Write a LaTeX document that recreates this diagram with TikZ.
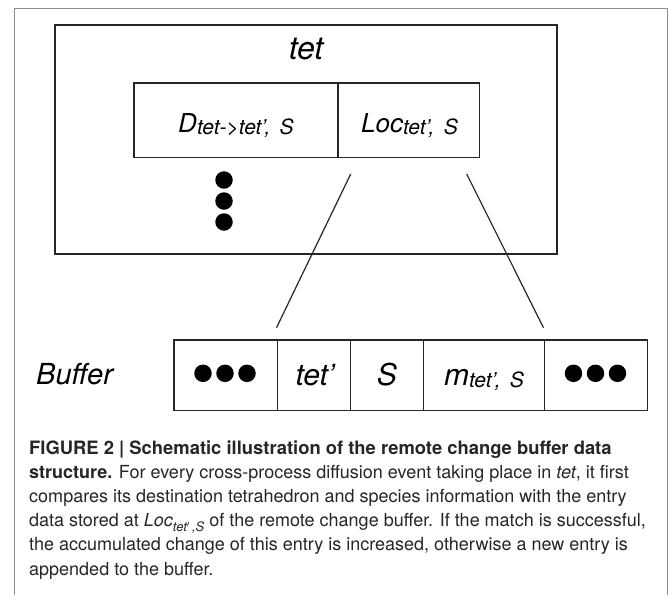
\documentclass[tikz,border=0pt]{standalone}
\usepackage{fontspec}
\setmainfont{TeX Gyre Heros}
\newcommand{\fsz}[1]{\fontsize{#1}{#1}\selectfont}
\newcommand{\lowsub}[1]{\raisebox{-2.5pt}{\fsz{21}#1}}
\begin{document}
\begin{tikzpicture}[x=1pt,y=-1pt,
  frame/.style={draw=black!45,line width=1pt},
  outerbox/.style={draw=black!85,line width=1.8pt,inner sep=0pt,anchor=north west},
  cell/.style={draw=black!85,line width=1.4pt,inner sep=0pt,anchor=north west},
  txt/.style={inner sep=0pt,anchor=base,font=\itshape},
  bigdot/.style={circle,fill=black,inner sep=0pt,minimum size=17.5pt},
  link/.style={line width=1.2pt,black!85},
  captext/.style={inner sep=0pt,anchor=base west,text=black!85,font=\fsz{18}}]
\useasboundingbox (0,0) rectangle (670,595);
\fill[white] (0,0) rectangle (670,595);

% figure frame, open at the bottom
\draw[frame] (14,595) -- (14,8) -- (667,8) -- (667,595);

% the tetrahedron record
\node[outerbox,minimum width=502pt,minimum height=229pt] (tetbox) at (54,24.3) {};
\node[txt,font=\itshape\fsz{32}] (tetname) at (306,59) {tet};
\node[cell,minimum width=204pt,minimum height=74.4pt] (dcell) at (133.3,82.3) {};
\node[cell,minimum width=141.7pt,minimum height=74.4pt] (loccell) at (337.3,82.3) {};
\node[txt,font=\itshape\fsz{26}] (dtext) at (236,132) {D\lowsub{tet->tet', \,S}};
\node[txt,font=\itshape\fsz{26}] (loctext) at (409.5,132) {Loc\lowsub{tet', \,S}};
\node[bigdot] (v1) at (224,180) {};
\node[bigdot] (v2) at (224,201) {};
\node[bigdot] (v3) at (224,222) {};

% the remote change buffer
\node[txt,anchor=base west,font=\itshape\fsz{29}] (buflabel) at (36,384) {Buffer};
\node[cell,minimum width=103.4pt,minimum height=70.7pt] (b1) at (173.3,339.3) {};
\node[cell,minimum width=73.3pt,minimum height=70.7pt] (b2) at (276.7,339.3) {};
\node[cell,minimum width=72.7pt,minimum height=70.7pt] (b3) at (350,339.3) {};
\node[cell,minimum width=121.3pt,minimum height=70.7pt] (b4) at (422.7,339.3) {};
\node[cell,minimum width=102.7pt,minimum height=70.7pt] (b5) at (544,339.3) {};
\node[bigdot] (h1) at (203,373.3) {};
\node[bigdot] (h2) at (225,373.3) {};
\node[bigdot] (h3) at (247,373.3) {};
\node[txt,font=\itshape\fsz{30}] (tettext) at (315,385) {tet'};
\node[txt,font=\itshape\fsz{30}] (stext) at (387,385) {S};
\node[txt,font=\itshape\fsz{30}] (mtext) at (484,385) {m\lowsub{tet', \,S}};
\node[bigdot] (h4) at (573.5,373.3) {};
\node[bigdot] (h5) at (595.5,373.3) {};
\node[bigdot] (h6) at (617.5,373.3) {};

% zoom lines from the location entry down to the buffer
\coordinate (ltop) at (350.7,174);
\coordinate (lbot) at (276.5,327.7);
\coordinate (rtop) at (466.7,174);
\coordinate (rbot) at (543.5,327.7);
\draw[link] (ltop) -- (lbot);
\draw[link] (rtop) -- (rbot);

% caption
\node[captext,font=\fsz{18.4}] (c1) at (29,454.3) {\bfseries FIGURE 2 | Schematic illustration of the remote change buffer data};
\node[captext] (c2) at (29,478.3) {\textbf{structure.} For every cross-process diffusion event taking place in \textit{tet}, it first};
\node[captext] (c3) at (29,502.7) {compares its destination tetrahedron and species information with the entry};
\node[captext] (c4) at (29,526.7) {data stored at \textit{Loc}\raisebox{-5pt}{\fsz{13}\itshape tet$'$\,,S} of the remote change buffer. If the match is successful,};
\node[captext] (c5) at (29,550.7) {the accumulated change of this entry is increased, otherwise a new entry is};
\node[captext] (c6) at (29,575) {appended to the buffer.};
\end{tikzpicture}
\end{document}
